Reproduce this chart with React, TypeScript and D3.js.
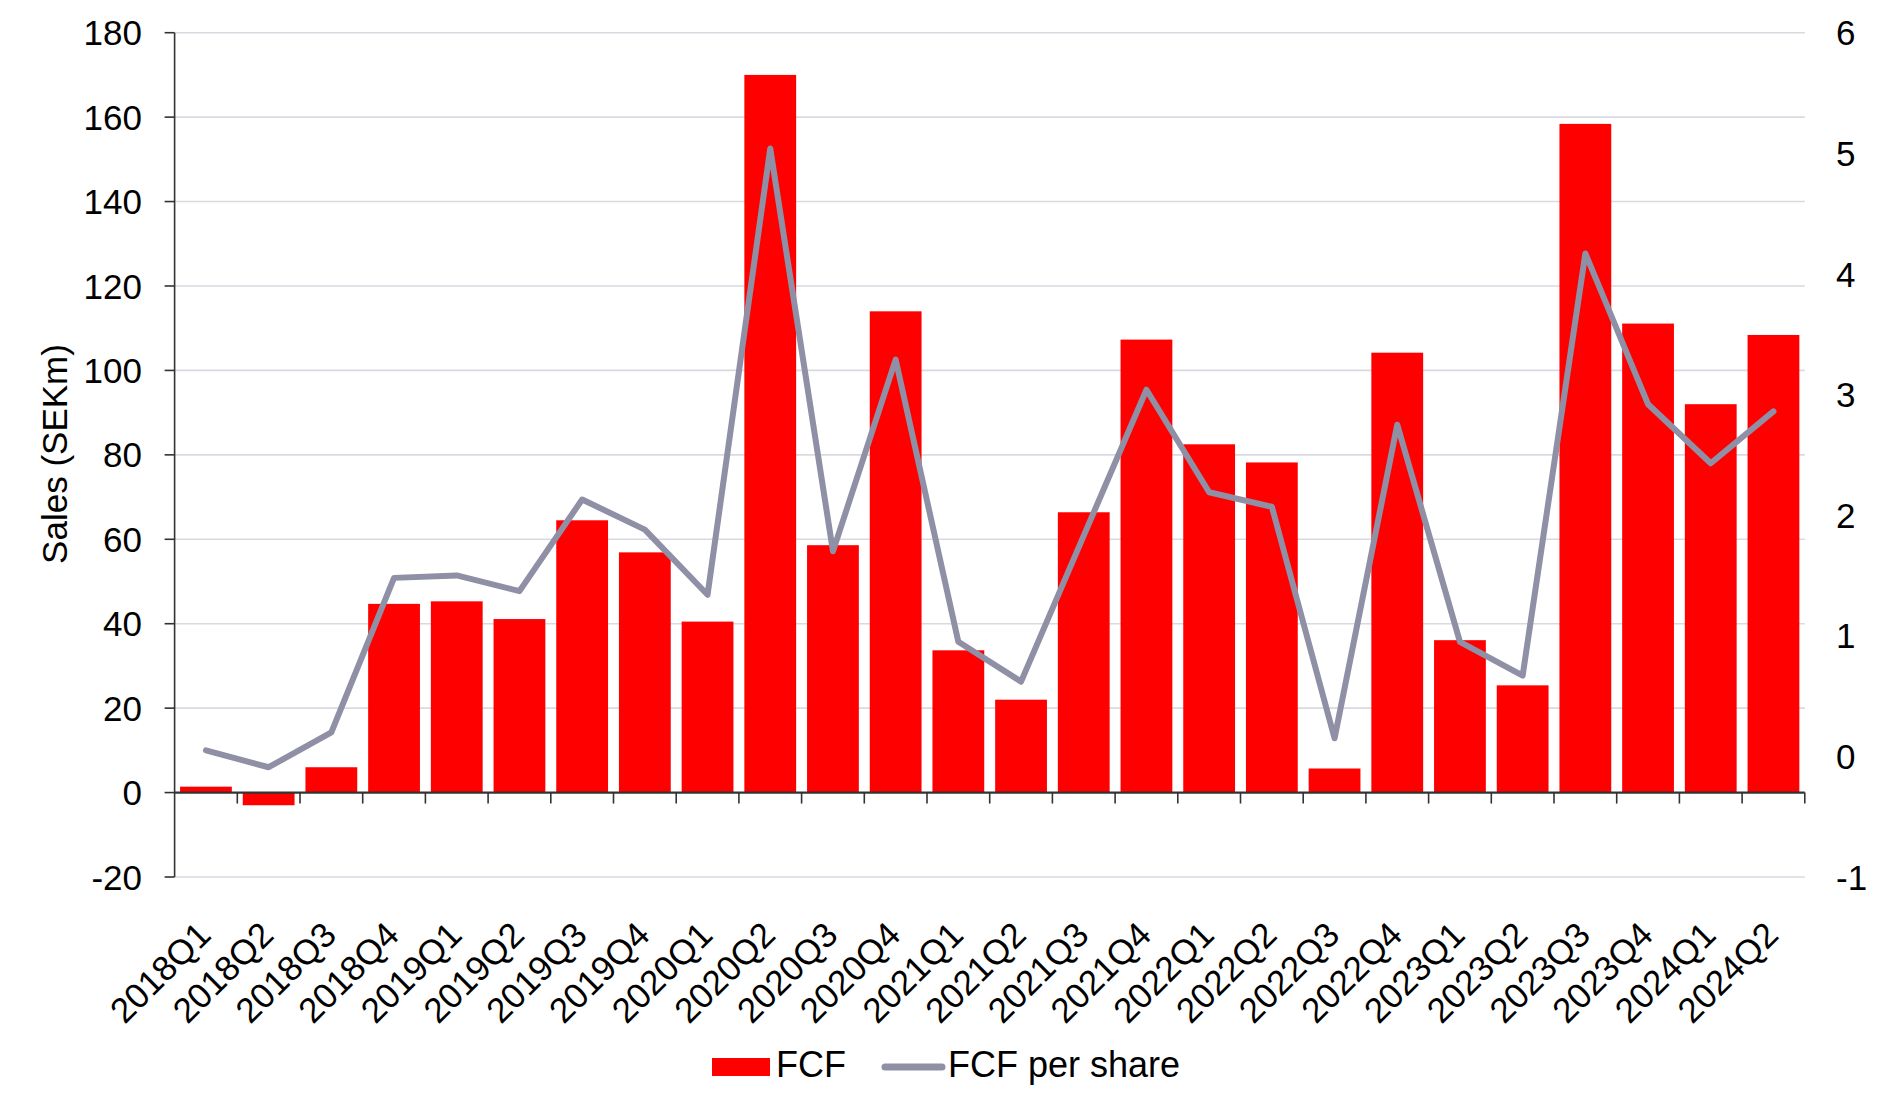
import React from "react";
import * as d3 from "d3";

const categories = [
  "2018Q1", "2018Q2", "2018Q3", "2018Q4",
  "2019Q1", "2019Q2", "2019Q3", "2019Q4",
  "2020Q1", "2020Q2", "2020Q3", "2020Q4",
  "2021Q1", "2021Q2", "2021Q3", "2021Q4",
  "2022Q1", "2022Q2", "2022Q3", "2022Q4",
  "2023Q1", "2023Q2", "2023Q3", "2023Q4",
  "2024Q1", "2024Q2",
];

const fcf = [
  1.4, -3.0, 6.0, 44.7,
  45.3, 41.1, 64.5, 56.9,
  40.5, 170.0, 58.6, 114.0,
  33.7, 22.0, 66.4, 107.3,
  82.5, 78.2, 5.7, 104.2,
  36.1, 25.4, 158.4, 111.1,
  92.0, 108.4,
];

const fcfPerShare = [
  0.05, -0.09, 0.2, 1.48,
  1.5, 1.37, 2.13, 1.88,
  1.34, 5.04, 1.7, 3.29,
  0.95, 0.62, 1.83, 3.04,
  2.19, 2.07, 0.15, 2.75,
  0.95, 0.67, 4.17, 2.92,
  2.43, 2.86,
];

const leftTicks = [-20, 0, 20, 40, 60, 80, 100, 120, 140, 160, 180];
const rightTicks = [-1, 0, 1, 2, 3, 4, 5, 6];

const seriesNames = ["FCF", "FCF per share"];

const W = 1884;
const H = 1113;
const plotLeft = 174.6;
const plotRight = 1804.8;
const plotTop = 32.7;
const plotBottom = 877;
const FONT = "'Liberation Sans', Arial, Helvetica, sans-serif";
const BAR = "#ff0000";
const LINE = "#8f8fa6";
const GRID = "#d9d9e1";
const AXIS = "#333333";

export default function App() {
  const x = d3
    .scaleBand<string>()
    .domain(categories)
    .range([plotLeft, plotRight])
    .paddingInner(0.174)
    .paddingOuter(0.087);
  const step = (plotRight - plotLeft) / categories.length;
  const yL = d3.scaleLinear().domain([-20, 180]).range([plotBottom, plotTop]);
  const yR = d3.scaleLinear().domain([-1, 6]).range([plotBottom, plotTop]);
  const y0 = yL(0);

  const linePath = d3
    .line<number>()
    .x((_, i) => (x(categories[i]) as number) + x.bandwidth() / 2)
    .y((d) => yR(d))(fcfPerShare) as string;

  return (
    <svg
      width={W}
      height={H}
      style={{ position: "absolute", left: 0, top: 0, background: "#fff" }}
      fontFamily={FONT}
    >
      {/* gridlines */}
      {leftTicks
        .filter((t) => t !== 0)
        .map((t) => (
          <line
            key={"g" + t}
            x1={plotLeft}
            x2={plotRight}
            y1={yL(t)}
            y2={yL(t)}
            stroke={GRID}
            strokeWidth={1.6}
          />
        ))}

      {/* bars */}
      {fcf.map((v, i) => (
        <rect
          key={"b" + i}
          x={x(categories[i])}
          width={x.bandwidth()}
          y={Math.min(yL(v), y0)}
          height={Math.abs(yL(v) - y0)}
          fill={BAR}
        />
      ))}

      {/* line */}
      <path
        d={linePath}
        fill="none"
        stroke={LINE}
        strokeWidth={6}
        strokeLinejoin="round"
        strokeLinecap="round"
      />

      {/* left axis */}
      <line x1={plotLeft} x2={plotLeft} y1={plotTop} y2={plotBottom} stroke={AXIS} strokeWidth={1.6} />
      {leftTicks.map((t) => (
        <g key={"lt" + t}>
          <line x1={plotLeft - 10} x2={plotLeft} y1={yL(t)} y2={yL(t)} stroke={AXIS} strokeWidth={1.6} />
          <text
            x={142}
            y={yL(t)}
            dy="0.36em"
            textAnchor="end"
            fontSize={35}
            fill="#000"
          >
            {t}
          </text>
        </g>
      ))}

      {/* right axis labels */}
      {rightTicks.map((t) => (
        <text
          key={"rt" + t}
          x={1836}
          y={yR(t)}
          dy="0.36em"
          textAnchor="start"
          fontSize={35}
          fill="#000"
        >
          {t}
        </text>
      ))}

      {/* x axis at zero */}
      <line x1={plotLeft} x2={plotRight} y1={y0} y2={y0} stroke={AXIS} strokeWidth={2.2} />
      {categories.map((c, i) => (
        <line
          key={"xt" + c}
          x1={plotLeft + step * (i + 1)}
          x2={plotLeft + step * (i + 1)}
          y1={y0}
          y2={y0 + 11}
          stroke={AXIS}
          strokeWidth={1.6}
        />
      ))}

      {/* category labels */}
      {categories.map((c) => {
        const cx = (x(c) as number) + x.bandwidth() / 2;
        return (
          <text
            key={"xl" + c}
            transform={`translate(${cx - 2},${plotBottom + 51}) rotate(-45)`}
            textAnchor="end"
            dy="0.36em"
            fontSize={35}
            fill="#000"
          >
            {c}
          </text>
        );
      })}

      {/* y axis title */}
      <text
        transform={`translate(54,454) rotate(-90)`}
        textAnchor="middle"
        dy="0.36em"
        fontSize={35}
        fill="#000"
      >
        Sales (SEKm)
      </text>

      {/* legend */}
      <rect x={712} y={1058} width={58} height={18} fill={BAR} />
      <text x={776} y={1077} fontSize={36} fill="#000">
        {seriesNames[0]}
      </text>
      <line x1={885} x2={942} y1={1067} y2={1067} stroke={LINE} strokeWidth={7} strokeLinecap="round" />
      <text x={948} y={1077} fontSize={36} fill="#000">
        {seriesNames[1]}
      </text>
    </svg>
  );
}
